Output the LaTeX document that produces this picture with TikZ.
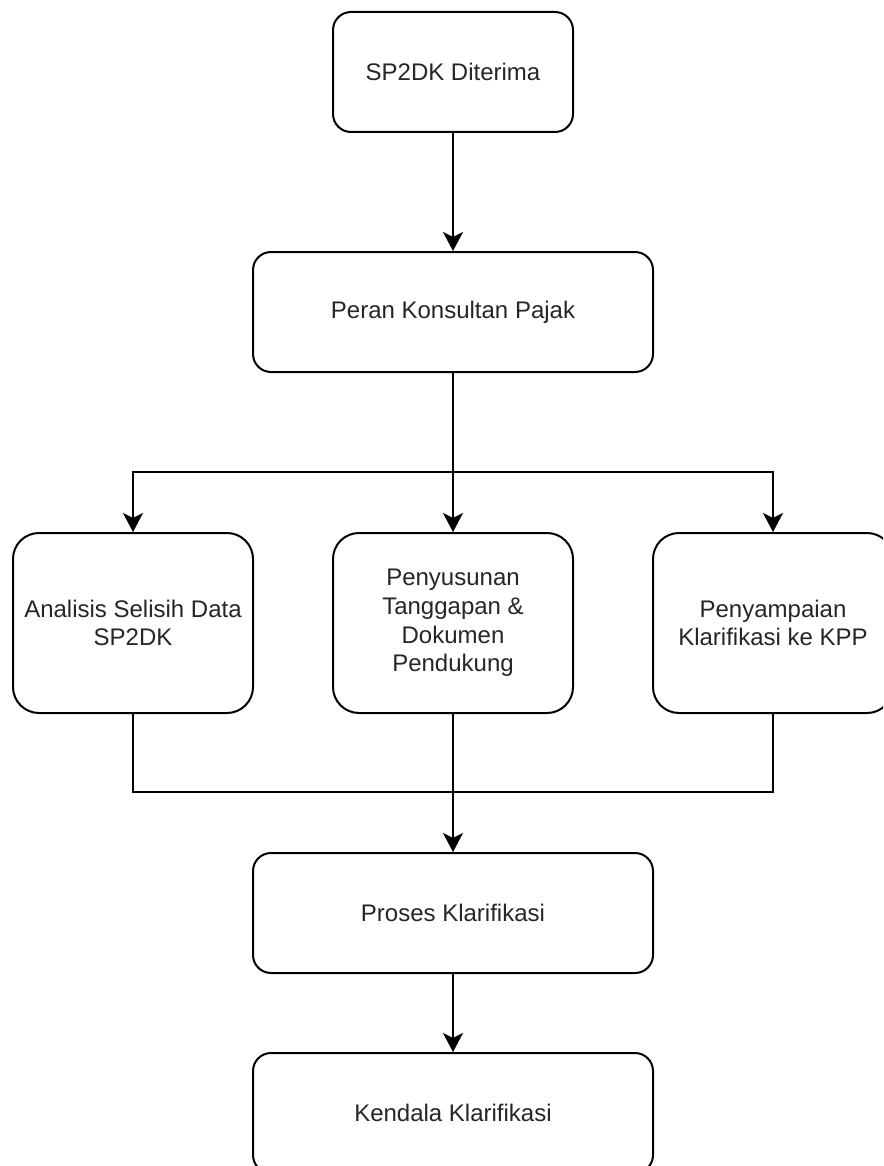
\documentclass[tikz,border=0pt]{standalone}
\usepackage{fontspec}
\setmainfont{Liberation Sans}
\usetikzlibrary{arrows.meta}

\tikzset{
  kotak/.style={draw, line width=2pt, rounded corners=18pt, align=center,
    font=\fontsize{24}{28.8}\selectfont, text=black!85},
  kotakl/.style={kotak, minimum width=400pt, minimum height=120pt},
  kotaks/.style={kotak, minimum width=240pt, minimum height=120pt},
  kotakt/.style={kotak, rounded corners=26pt, minimum width=240pt, minimum height=180pt},
  panah/.style={line width=2pt, -{Stealth[length=19pt, width=20pt, inset=5pt]}},
  garis/.style={line width=2pt}
}

\begin{document}
\begin{tikzpicture}[x=1pt, y=-1pt]
    \useasboundingbox (0,0) rectangle (883,1166);
    \clip (0,0) rectangle (883,1166);
    \fill[white] (0,0) rectangle (883,1166);

    %Kotak atas
    \node[kotaks] (terima) at (453,72) {SP2DK Diterima};
    \node[kotakl] (peran) at (453,312) {Peran Konsultan Pajak};

    %Tiga kotak tengah
    \node[kotakt] (analisis) at (133,623) {Analisis Selisih Data\\SP2DK};
    \node[kotakt] (susun) at (453,623) {Penyusunan\\Tanggapan \&\\Dokumen\\Pendukung};
    \node[kotakt] (sampai) at (773,623) {Penyampaian\\Klarifikasi ke KPP};

    %Kotak bawah
    \node[kotakl] (proses) at (453,913) {Proses Klarifikasi};
    \node[kotakl] (kendala) at (453,1113) {Kendala Klarifikasi};

    %Titik cabang dan titik gabung
    \coordinate (cabang) at (453,472);
    \coordinate (gabung) at (453,792);

    \draw[panah] (terima) -- (peran);
    \draw[panah] (peran) -- (susun);
    \draw[panah] (cabang) -| (analisis);
    \draw[panah] (cabang) -| (sampai);

    \draw[garis] (analisis) |- (gabung) -| (sampai);
    \draw[panah] (susun) -- (proses);
    \draw[panah] (proses) -- (kendala);
\end{tikzpicture}
\end{document}
